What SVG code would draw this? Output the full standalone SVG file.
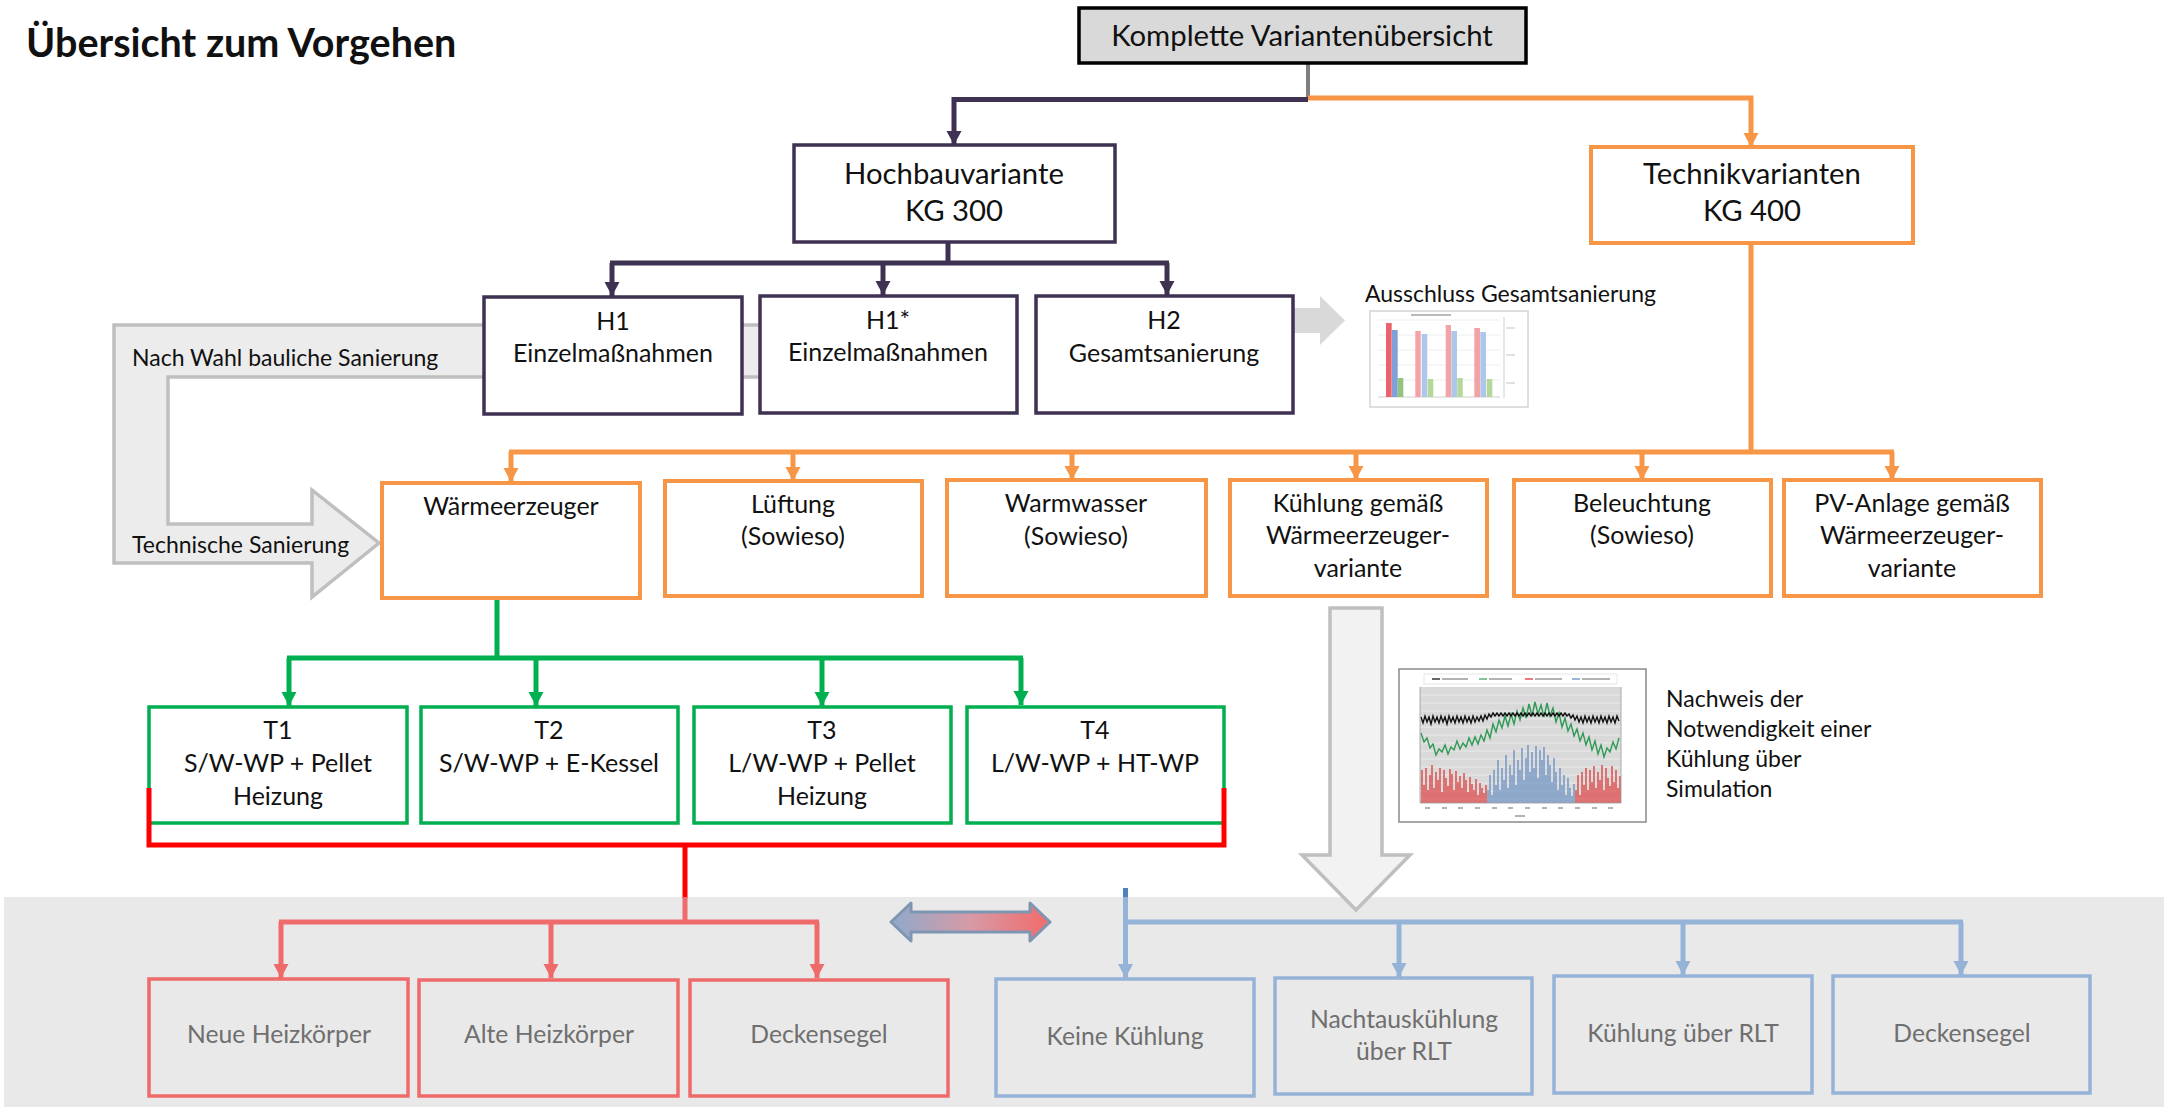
<svg xmlns="http://www.w3.org/2000/svg" width="2164" height="1107" viewBox="0 0 2164 1107">
<defs>
<style>
text{font-family:Lato,"Liberation Sans",sans-serif;fill:#111;}
.title{font-weight:bold;font-size:39.5px;}
.main{font-size:29.3px;text-anchor:middle;}
.bx{font-size:25px;text-anchor:middle;}
.lbl{font-size:23px;}
.low{font-size:24.7px;text-anchor:middle;fill:#6f6f6f;}
.pu{fill:#fff;stroke:#3f3151;stroke-width:3.5;}
.or{fill:#fff;stroke:#f79646;stroke-width:4;}
.gr{fill:#fff;stroke:#00b050;stroke-width:3.5;}
.rd{fill:none;stroke:#ef6a6a;stroke-width:3.5;}
.bl{fill:none;stroke:#95b3d7;stroke-width:3.5;}
.cp{fill:none;stroke:#3f3151;stroke-width:5;}
.co{fill:none;stroke:#f79646;stroke-width:5;}
.cg{fill:none;stroke:#00b050;stroke-width:5;}
.cr{fill:none;stroke:#ff0000;stroke-width:5;}
.clr{fill:none;stroke:#ef6a6a;stroke-width:5;}
.cb{fill:none;stroke:#95b3d7;stroke-width:5;}
</style>
<marker id="mp" markerUnits="userSpaceOnUse" markerWidth="16" markerHeight="16" viewBox="0 0 16 16" refX="14" refY="8" orient="auto"><path d="M0,0.5 L14,8 L0,15.5 Z" fill="#3f3151"/></marker>
<marker id="mo" markerUnits="userSpaceOnUse" markerWidth="16" markerHeight="16" viewBox="0 0 16 16" refX="14" refY="8" orient="auto"><path d="M0,0.5 L14,8 L0,15.5 Z" fill="#f79646"/></marker>
<marker id="mg" markerUnits="userSpaceOnUse" markerWidth="16" markerHeight="16" viewBox="0 0 16 16" refX="14" refY="8" orient="auto"><path d="M0,0.5 L14,8 L0,15.5 Z" fill="#00b050"/></marker>
<marker id="mr" markerUnits="userSpaceOnUse" markerWidth="16" markerHeight="16" viewBox="0 0 16 16" refX="14" refY="8" orient="auto"><path d="M0,0.5 L14,8 L0,15.5 Z" fill="#ef6a6a"/></marker>
<marker id="mb" markerUnits="userSpaceOnUse" markerWidth="16" markerHeight="16" viewBox="0 0 16 16" refX="14" refY="8" orient="auto"><path d="M0,0.5 L14,8 L0,15.5 Z" fill="#95b3d7"/></marker>
<linearGradient id="dg" x1="891" y1="0" x2="1050" y2="0" gradientUnits="userSpaceOnUse">
<stop offset="0" stop-color="#8eaacb"/><stop offset="0.5" stop-color="#d79aa6"/><stop offset="1" stop-color="#f26a6a"/>
</linearGradient>
</defs>

<rect width="2164" height="1107" fill="#fff"/>
<rect x="4" y="897" width="2160" height="210" fill="#e9e9e9"/>

<text class="title" x="26" y="57">Übersicht zum Vorgehen</text>

<!-- background arrows -->
<g id="arrow-bauliche">
<path d="M800,325 H114 V563 H312 V597 L379,543 L312,490 V524 H168 V377 H800 Z" fill="#ececec" stroke="#bfbfbf" stroke-width="3.5"/>
<text class="lbl" x="132" y="366">Nach Wahl bauliche Sanierung</text>
<text class="lbl" x="132" y="553">Technische Sanierung</text>
</g>
<g id="arrow-ausschluss">
<path d="M1250,308 H1320 V296 L1345,320.5 L1320,345 V333 H1250 Z" fill="#d9d9d9"/>
</g>
<g id="arrow-kuehlung">
<path d="M1330,608 H1382 V855 H1410 L1356,910 L1302,855 H1330 Z" fill="#f2f2f2" stroke="#bfbfbf" stroke-width="3.5"/>
</g>
<g id="arrow-double">
<path d="M891,922 L911,903 V912 H1030 V903 L1050,922 L1030,941 V932 H911 V941 Z" fill="url(#dg)" stroke="#7f96b3" stroke-width="3" stroke-linejoin="round"/>
</g>

<!-- connectors -->
<g id="connectors">
<path d="M1308,63 V99" fill="none" stroke="#7f7f7f" stroke-width="4"/>
<path class="cp" d="M1308,99.5 H954 V145" marker-end="url(#mp)"/>
<path class="co" d="M1308,98 H1751 V147" marker-end="url(#mo)"/>
<path class="cp" d="M948,242 V263 M610,263 H1169"/>
<path class="cp" d="M612,263 V296" marker-end="url(#mp)"/>
<path class="cp" d="M883,263 V295" marker-end="url(#mp)"/>
<path class="cp" d="M1167,263 V295" marker-end="url(#mp)"/>
<path class="co" d="M1751,243 V452 M509,452 H1894"/>
<path class="co" d="M511,452 V482" marker-end="url(#mo)"/>
<path class="co" d="M793,452 V481" marker-end="url(#mo)"/>
<path class="co" d="M1072,452 V480" marker-end="url(#mo)"/>
<path class="co" d="M1356,452 V480" marker-end="url(#mo)"/>
<path class="co" d="M1642,452 V480" marker-end="url(#mo)"/>
<path class="co" d="M1892,452 V480" marker-end="url(#mo)"/>
<path class="cg" d="M497,598 V658 M287,658 H1023"/>
<path class="cg" d="M289,658 V706" marker-end="url(#mg)"/>
<path class="cg" d="M536,658 V706" marker-end="url(#mg)"/>
<path class="cg" d="M822,658 V706" marker-end="url(#mg)"/>
<path class="cg" d="M1021,658 V705" marker-end="url(#mg)"/>
<path class="cr" d="M685,845 V898"/>
<path class="clr" d="M685,897 V922 M279,922 H819"/>
<path class="clr" d="M281,922 V978" marker-end="url(#mr)"/>
<path class="clr" d="M551,922 V978" marker-end="url(#mr)"/>
<path class="clr" d="M817,922 V978" marker-end="url(#mr)"/>
<path d="M1125.5,888 V898" fill="none" stroke="#4f81bd" stroke-width="5"/>
<path class="cb" d="M1125.5,897 V922 H1963"/>
<path class="cb" d="M1125.5,922 V978" marker-end="url(#mb)"/>
<path class="cb" d="M1399,922 V977" marker-end="url(#mb)"/>
<path class="cb" d="M1683,922 V975" marker-end="url(#mb)"/>
<path class="cb" d="M1961,922 V975" marker-end="url(#mb)"/>
</g>

<!-- nodes -->
<g id="n-komplett">
<rect x="1079" y="8" width="447" height="55" fill="#d9d9d9" stroke="#000" stroke-width="3.5"/>
<text class="main" x="1302" y="46">Komplette Variantenübersicht</text>
</g>
<g id="n-hochbau">
<rect class="pu" x="794" y="145" width="321" height="97"/>
<text class="main" x="954" y="184">Hochbauvariante</text>
<text class="main" x="954" y="221">KG 300</text>
</g>
<g id="n-technik">
<rect class="or" x="1591" y="147" width="322" height="96"/>
<text class="main" x="1752" y="184">Technikvarianten</text>
<text class="main" x="1752" y="221">KG 400</text>
</g>
<g id="n-h1">
<rect class="pu" x="484" y="297" width="258" height="117"/>
<text class="bx" x="613" y="330">H1</text>
<text class="bx" x="613" y="362">Einzelmaßnahmen</text>
</g>
<g id="n-h1s">
<rect class="pu" x="760" y="296" width="257" height="117"/>
<text class="bx" x="888" y="329">H1*</text>
<text class="bx" x="888" y="361">Einzelmaßnahmen</text>
</g>
<g id="n-h2">
<rect class="pu" x="1036" y="296" width="257" height="117"/>
<text class="bx" x="1164" y="329">H2</text>
<text class="bx" x="1164" y="362">Gesamtsanierung</text>
</g>

<g id="n-ausschluss">
<text class="lbl" x="1365" y="302">Ausschluss Gesamtsanierung</text>
<rect x="1370" y="311" width="158" height="96" fill="#fff" stroke="#d4d4d4" stroke-width="1.5"/>
<path d="M1378,320 H1500 M1378,335 H1500 M1378,350 H1500 M1378,365 H1500 M1378,380 H1500" stroke="#eeeeee" stroke-width="1"/>
<path d="M1378,397 H1500 M1504,317 V398" stroke="#cfcfcf" stroke-width="1"/>
<rect x="1411" y="314" width="40" height="2" fill="#bbbbbb"/>
<rect x="1386" y="323" width="5.7" height="74" fill="#e8646c"/>
<rect x="1392" y="330" width="5.7" height="67" fill="#7fa0d8"/>
<rect x="1397.7" y="378" width="5.6" height="19" fill="#93c47d"/>
<rect x="1415.3" y="331" width="5.4" height="66" fill="#f3a3a6"/>
<rect x="1421.7" y="334" width="5.6" height="63" fill="#aec6ea"/>
<rect x="1427.7" y="379" width="5.6" height="18" fill="#b3d89a"/>
<rect x="1445.7" y="325" width="5.3" height="72" fill="#f3a3a6"/>
<rect x="1451.3" y="331" width="5.7" height="66" fill="#aec6ea"/>
<rect x="1457.3" y="378" width="5.4" height="19" fill="#b3d89a"/>
<rect x="1474.3" y="328" width="5.7" height="69" fill="#f3a3a6"/>
<rect x="1480.3" y="332" width="5.7" height="65" fill="#aec6ea"/>
<rect x="1486.7" y="379" width="5.6" height="18" fill="#b3d89a"/>
<path d="M1506,328 H1515 M1506,355 H1515 M1506,383 H1515" stroke="#d8d8d8" stroke-width="1.5"/>
</g>

<g id="n-waerme">
<rect class="or" x="382" y="483" width="258" height="115"/>
<text class="bx" x="511" y="515">Wärmeerzeuger</text>
</g>
<g id="n-lueftung">
<rect class="or" x="665" y="481" width="257" height="115"/>
<text class="bx" x="793" y="513">Lüftung</text>
<text class="bx" x="793" y="545">(Sowieso)</text>
</g>
<g id="n-warmwasser">
<rect class="or" x="947" y="480" width="259" height="116"/>
<text class="bx" x="1076" y="512">Warmwasser</text>
<text class="bx" x="1076" y="545">(Sowieso)</text>
</g>
<g id="n-kuehlung">
<rect class="or" x="1230" y="480" width="257" height="116"/>
<text class="bx" x="1358" y="512">Kühlung gemäß</text>
<text class="bx" x="1358" y="544">Wärmeerzeuger-</text>
<text class="bx" x="1358" y="577">variante</text>
</g>
<g id="n-beleuchtung">
<rect class="or" x="1514" y="480" width="257" height="116"/>
<text class="bx" x="1642" y="512">Beleuchtung</text>
<text class="bx" x="1642" y="544">(Sowieso)</text>
</g>
<g id="n-pv">
<rect class="or" x="1784" y="480" width="257" height="116"/>
<text class="bx" x="1912" y="512">PV-Anlage gemäß</text>
<text class="bx" x="1912" y="544">Wärmeerzeuger-</text>
<text class="bx" x="1912" y="577">variante</text>
</g>

<g id="n-t1">
<rect class="gr" x="149" y="707" width="258" height="116"/>
<text class="bx" x="278" y="739">T1</text>
<text class="bx" x="278" y="772">S/W-WP + Pellet</text>
<text class="bx" x="278" y="805">Heizung</text>
</g>
<g id="n-t2">
<rect class="gr" x="421" y="707" width="257" height="116"/>
<text class="bx" x="549" y="739">T2</text>
<text class="bx" x="549" y="772">S/W-WP + E-Kessel</text>
</g>
<g id="n-t3">
<rect class="gr" x="694" y="707" width="257" height="116"/>
<text class="bx" x="822" y="739">T3</text>
<text class="bx" x="822" y="772">L/W-WP + Pellet</text>
<text class="bx" x="822" y="805">Heizung</text>
</g>
<g id="n-t4">
<rect class="gr" x="967" y="707" width="257" height="116"/>
<text class="bx" x="1095" y="739">T4</text>
<text class="bx" x="1095" y="772">L/W-WP + HT-WP</text>
</g>
<g id="red-bracket">
<path d="M149,788 V845 H1224 V788" fill="none" stroke="#ff0000" stroke-width="5"/>
</g>

<g id="n-simulation">
<rect x="1399" y="669" width="247" height="153" fill="#fff" stroke="#8a8a8a" stroke-width="1.5"/>
<rect x="1420" y="687" width="201" height="116" fill="#d9d9d9"/>
<path d="M1420,695 H1621 M1420,703 H1621 M1420,711 H1621 M1420,719 H1621 M1420,727 H1621 M1420,735 H1621 M1420,743 H1621 M1420,751 H1621 M1420,759 H1621 M1420,767 H1621 M1420,775 H1621 M1420,783 H1621 M1420,791 H1621 M1420,799 H1621" stroke="#f0f0f0" stroke-width="0.8"/>
<rect x="1424" y="674" width="193" height="10" fill="#fff" stroke="#e0e0e0" stroke-width="0.8"/>
<path d="M1432,679 H1440" stroke="#000" stroke-width="1.2"/>
<path d="M1479,679 H1487" stroke="#2e9a55" stroke-width="1.2"/>
<path d="M1525,679 H1533" stroke="#e02020" stroke-width="1.2"/>
<path d="M1572,679 H1580" stroke="#5b87c0" stroke-width="1.2"/>
<path d="M1442,679 H1468 M1489,679 H1512 M1535,679 H1562 M1582,679 H1610" stroke="#9a9a9a" stroke-width="1.5"/>
<path d="M1422,803 V770 M1424,803 V785 M1426,803 V768 M1428,803 V790 M1430,803 V775 M1432,803 V765 M1434,803 V788 M1436,803 V772 M1438,803 V780 M1440,803 V768 M1442,803 V792 M1444,803 V770 M1446,803 V778 M1448,803 V786 M1450,803 V769 M1452,803 V774 M1454,803 V790 M1456,803 V771 M1458,803 V782 M1460,803 V776 M1462,803 V788 M1464,803 V773 M1466,803 V780 M1468,803 V792 M1470,803 V777 M1472,803 V784 M1474,803 V790 M1476,803 V779 M1478,803 V795 M1480,803 V783 M1482,803 V788 M1484,803 V793 M1486,803 V785 M1576,803 V790 M1578,803 V775 M1580,803 V795 M1582,803 V772 M1584,803 V785 M1586,803 V768 M1588,803 V790 M1590,803 V770 M1592,803 V782 M1594,803 V766 M1596,803 V788 M1598,803 V772 M1600,803 V780 M1602,803 V765 M1604,803 V790 M1606,803 V768 M1608,803 V778 M1610,803 V786 M1612,803 V766 M1614,803 V782 M1616,803 V770 M1618,803 V788 M1620,803 V776" stroke="#e02a2a" stroke-width="1.2"/>
<path d="M1488,803 V790 M1490,803 V775 M1492,803 V795 M1494,803 V770 M1496,803 V785 M1498,803 V760 M1500,803 V790 M1502,803 V768 M1504,803 V780 M1506,803 V755 M1508,803 V788 M1510,803 V765 M1512,803 V775 M1514,803 V750 M1516,803 V785 M1518,803 V760 M1520,803 V770 M1522,803 V748 M1524,803 V780 M1526,803 V758 M1528,803 V745 M1530,803 V772 M1532,803 V752 M1534,803 V768 M1536,803 V746 M1538,803 V778 M1540,803 V750 M1542,803 V760 M1544,803 V747 M1546,803 V775 M1548,803 V755 M1550,803 V765 M1552,803 V782 M1554,803 V758 M1556,803 V772 M1558,803 V790 M1560,803 V768 M1562,803 V785 M1564,803 V775 M1566,803 V795 M1568,803 V778 M1570,803 V788 M1572,803 V796 M1574,803 V784" stroke="#5b87c0" stroke-width="1.2"/>
<polyline fill="none" stroke="#2e9a55" stroke-width="1.4" points="1421,733 1424,742 1427,738 1430,748 1433,744 1436,755 1439,749 1442,752 1445,745 1448,754 1451,747 1454,750 1457,741 1460,749 1463,743 1466,747 1469,738 1472,745 1475,737 1478,744 1481,735 1484,741 1487,730 1490,738 1493,724 1496,732 1499,720 1502,728 1505,716 1508,726 1511,714 1514,724 1517,711 1520,720 1523,708 1526,718 1529,704 1532,716 1535,702 1538,714 1541,705 1544,717 1547,703 1550,716 1553,708 1556,722 1559,713 1562,727 1565,718 1568,731 1571,724 1574,736 1577,729 1580,741 1583,733 1586,745 1589,737 1592,750 1595,741 1598,754 1601,745 1604,757 1607,748 1610,752 1613,742 1616,749 1619,738"/>
<polyline fill="none" stroke="#111" stroke-width="1.4" points="1421,717 1423,723 1425,716 1427,722 1429,717 1431,724 1433,716 1435,722 1437,717 1439,723 1441,716 1443,722 1445,717 1447,724 1449,716 1451,722 1453,717 1455,723 1457,716 1459,722 1461,717 1463,723 1465,716 1467,722 1469,717 1471,723 1473,716 1475,722 1477,717 1479,721 1481,716 1483,721 1485,715 1487,719 1489,714 1491,717 1493,713 1495,716 1497,713 1499,716 1501,713 1503,716 1505,713 1507,716 1509,713 1511,716 1513,713 1515,716 1517,713 1519,716 1521,713 1523,716 1525,713 1527,716 1529,713 1531,716 1533,713 1535,716 1537,713 1539,716 1541,713 1543,716 1545,713 1547,716 1549,713 1551,716 1553,713 1555,716 1557,713 1559,716 1561,713 1563,716 1565,713 1567,716 1569,714 1571,718 1573,715 1575,720 1577,716 1579,722 1581,717 1583,723 1585,716 1587,722 1589,717 1591,723 1593,716 1595,722 1597,717 1599,723 1601,716 1603,722 1605,717 1607,723 1609,716 1611,722 1613,717 1615,723 1617,716 1619,721"/>
<path d="M1420,687 V803 H1621 V687" fill="none" stroke="#9a9a9a" stroke-width="0.8"/>
<path d="M1425,808 H1430 M1442,808 H1447 M1458,808 H1463 M1475,808 H1480 M1492,808 H1497 M1508,808 H1513 M1525,808 H1530 M1542,808 H1547 M1558,808 H1563 M1575,808 H1580 M1592,808 H1597 M1608,808 H1613 M1515,816 H1525" stroke="#9a9a9a" stroke-width="1.5"/>
<text class="lbl" x="1666" y="707">Nachweis der</text>
<text class="lbl" x="1666" y="737">Notwendigkeit einer</text>
<text class="lbl" x="1666" y="767">Kühlung über</text>
<text class="lbl" x="1666" y="797">Simulation</text>
</g>

<g id="n-neue">
<rect class="rd" x="149" y="979" width="259" height="117"/>
<text class="low" x="279" y="1043">Neue Heizkörper</text>
</g>
<g id="n-alte">
<rect class="rd" x="419" y="980" width="259" height="116"/>
<text class="low" x="549" y="1043">Alte Heizkörper</text>
</g>
<g id="n-decken1">
<rect class="rd" x="690" y="980" width="258" height="116"/>
<text class="low" x="819" y="1043">Deckensegel</text>
</g>
<g id="n-keine">
<rect class="bl" x="996" y="979" width="258" height="117"/>
<text class="low" x="1125" y="1045">Keine Kühlung</text>
</g>
<g id="n-nacht">
<rect class="bl" x="1275" y="978" width="257" height="116"/>
<text class="low" x="1404" y="1028">Nachtauskühlung</text>
<text class="low" x="1404" y="1060">über RLT</text>
</g>
<g id="n-rlt">
<rect class="bl" x="1554" y="976" width="258" height="117"/>
<text class="low" x="1683" y="1042">Kühlung über RLT</text>
</g>
<g id="n-decken2">
<rect class="bl" x="1833" y="976" width="257" height="117"/>
<text class="low" x="1962" y="1042">Deckensegel</text>
</g>
</svg>
